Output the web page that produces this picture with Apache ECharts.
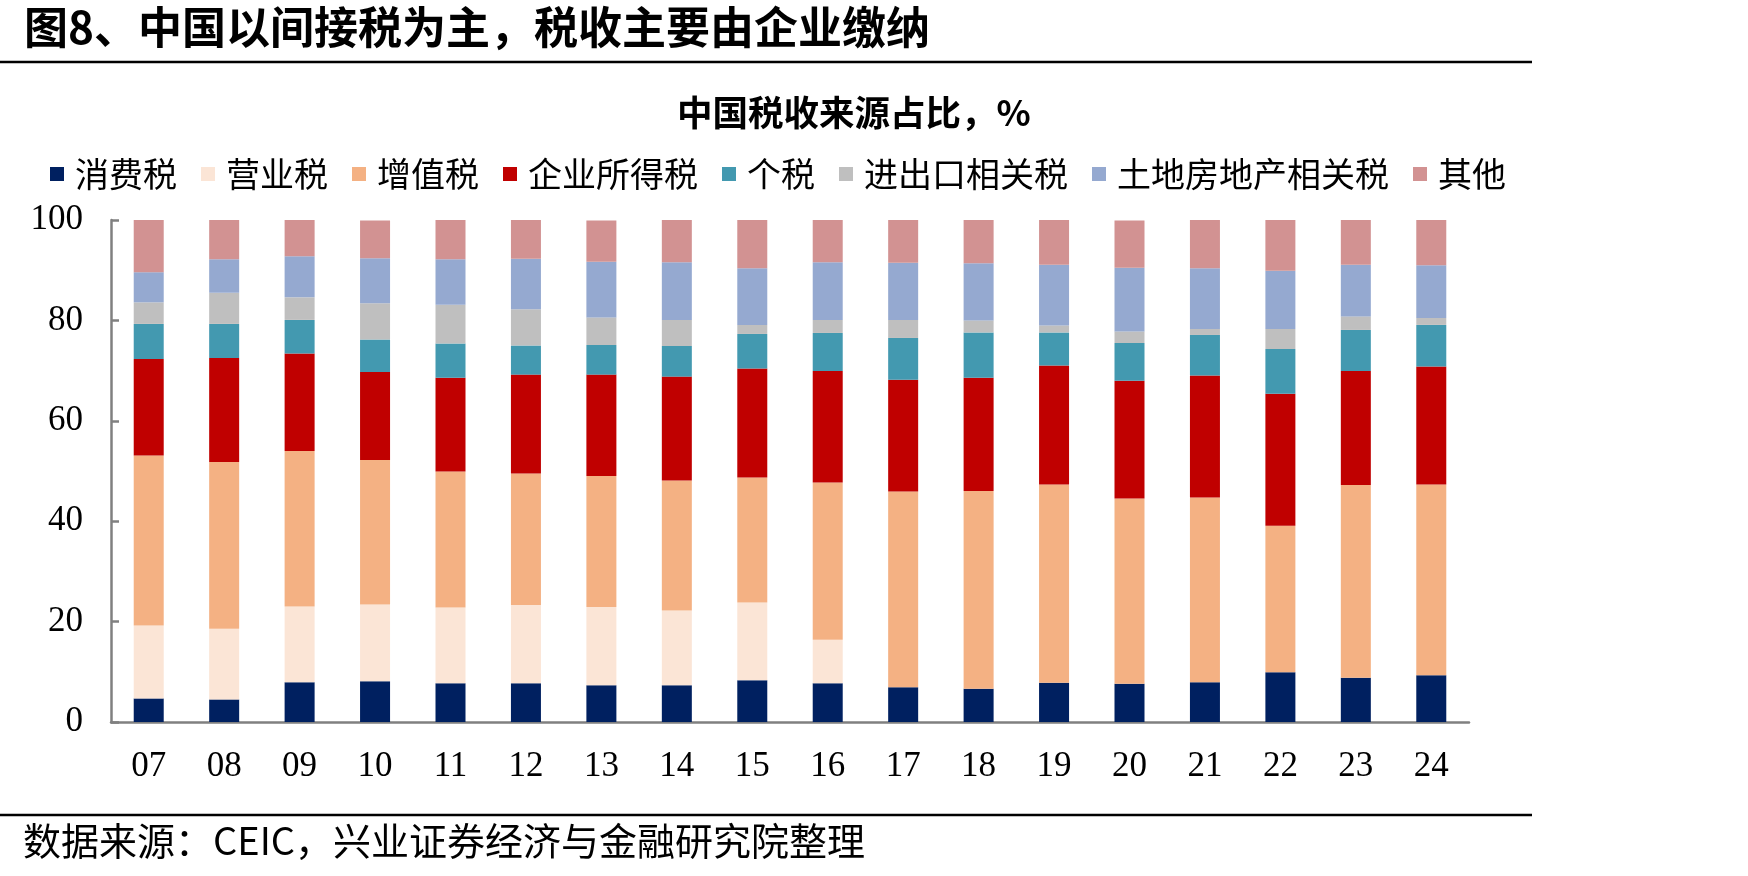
<!DOCTYPE html>
<html>
<head>
<meta charset="utf-8">
<title>中国税收来源占比</title>
<script src="https://cdn.jsdelivr.net/npm/echarts/dist/echarts.min.js"></script>
<style>
  html, body {
    margin: 0;
    padding: 0;
    background: #fff;
  }
  #chart {
    width: 1748px;
    height: 876px;
  }
</style>
</head>
<body>
<div id="chart"></div>
<script>
// 年份
const years = ['07', '08', '09', '10', '11', '12', '13', '14', '15', '16', '17', '18', '19', '20', '21', '22', '23', '24']

// 各税种占比，%
const consumptionTax = [4.7, 4.5, 7.9, 8.1, 7.7, 7.7, 7.3, 7.3, 8.3, 7.7, 6.9, 6.6, 7.8, 7.6, 7.9, 9.9, 8.8, 9.3]
const businessTax = [14.5, 14.1, 15.1, 15.3, 15.1, 15.6, 15.6, 14.9, 15.5, 8.7, 0, 0, 0, 0, 0, 0, 0, 0]
const vatTax = [33.9, 33.2, 31.0, 28.8, 27.1, 26.2, 26.1, 25.9, 24.9, 31.3, 39.0, 39.4, 39.5, 36.9, 36.8, 29.2, 38.4, 38.0]
const corporateTax = [19.2, 20.7, 19.4, 17.5, 18.7, 19.7, 20.2, 20.7, 21.7, 22.2, 22.3, 22.6, 23.7, 23.5, 24.3, 26.3, 22.7, 23.5]
const personalTax = [7.0, 6.8, 6.7, 6.5, 6.8, 5.8, 5.9, 6.1, 6.9, 7.6, 8.3, 9.0, 6.6, 7.5, 8.1, 8.9, 8.2, 8.3]
const tradeTax = [4.3, 6.2, 4.5, 7.2, 7.7, 7.2, 5.5, 5.2, 1.8, 2.6, 3.6, 2.4, 1.4, 2.3, 1.2, 4.0, 2.7, 1.4]
const landTax = [6.0, 6.7, 8.2, 9.0, 9.1, 10.1, 11.1, 11.5, 11.3, 11.5, 11.4, 11.4, 12.1, 12.7, 12.1, 11.6, 10.3, 10.5]
const otherTax = [10.4, 7.8, 7.2, 7.5, 7.8, 7.8, 8.2, 8.4, 9.6, 8.4, 8.5, 8.6, 9.0, 9.4, 9.6, 10.1, 9.0, 9.0]

const yTicks = [0, 20, 40, 60, 80, 100]

const cjk = "'Noto Sans CJK SC', sans-serif"
const serif = "'Liberation Serif', 'Noto Sans CJK SC', serif"

const chart = echarts.init(document.getElementById('chart'))

function bar(name, data, color) {
  return {
    name: name,
    type: 'bar',
    stack: 'total',
    barWidth: 30,
    data: data,
    itemStyle: { color: color },
    emphasis: { disabled: true }
  }
}

const option = {
  backgroundColor: '#fff',
  animation: false,
  title: [
    {
      text: '图8、中国以间接税为主，税收主要由企业缴纳',
      left: 24,
      top: 5,
      padding: 0,
      textStyle: { fontFamily: cjk, fontSize: 44, fontWeight: 'bold', color: '#000' }
    },
    {
      text: '中国税收来源占比，%',
      left: 677,
      top: 95,
      padding: 0,
      textStyle: { fontFamily: cjk, fontSize: 35.5, fontWeight: 'bold', color: '#000' }
    },
    {
      text: '数据来源：CEIC，兴业证券经济与金融研究院整理',
      left: 23,
      top: 822,
      padding: 0,
      textStyle: { fontFamily: cjk, fontSize: 38, fontWeight: 'normal', color: '#000' }
    }
  ],
  legend: {
    left: 50,
    top: 157,
    padding: 0,
    itemWidth: 14,
    itemHeight: 14,
    itemGap: 24,
    icon: 'rect',
    selectedMode: false,
    textStyle: { fontFamily: cjk, fontSize: 34, color: '#000', padding: [0, 0, 0, 6] }
  },
  grid: {
    left: 111,
    right: 279,
    top: 220,
    bottom: 154
  },
  xAxis: {
    type: 'category',
    data: years,
    axisLine: { lineStyle: { color: '#808080', width: 2.5 } },
    axisTick: { inside: true, length: 9, lineStyle: { color: '#808080', width: 2.5 } },
    axisLabel: { fontFamily: serif, fontSize: 35, color: '#000', margin: 27 }
  },
  yAxis: {
    type: 'value',
    min: yTicks[0],
    max: yTicks[yTicks.length - 1],
    interval: 20,
    splitLine: { show: false },
    axisLine: { show: true, lineStyle: { color: '#808080', width: 2.5 } },
    axisTick: { show: true, inside: true, length: 8, lineStyle: { color: '#808080', width: 2.5 } },
    axisLabel: { fontFamily: serif, fontSize: 35, color: '#000', margin: 28 }
  },
  graphic: [
    // 标题下横线
    { type: 'line', shape: { x1: 0, y1: 62, x2: 1532, y2: 62 }, style: { stroke: '#000', lineWidth: 2.5 } },
    // 数据来源上横线
    { type: 'line', shape: { x1: 0, y1: 815, x2: 1532, y2: 815 }, style: { stroke: '#000', lineWidth: 2.5 } }
  ],
  series: [
    bar('消费税', consumptionTax, '#002060'),
    bar('营业税', businessTax, '#FBE5D6'),
    bar('增值税', vatTax, '#F4B183'),
    bar('企业所得税', corporateTax, '#C00000'),
    bar('个税', personalTax, '#4399B0'),
    bar('进出口相关税', tradeTax, '#BFBFBF'),
    bar('土地房地产相关税', landTax, '#95A9D0'),
    bar('其他', otherTax, '#D29292')
  ]
}

chart.setOption(option)
</script>
</body>
</html>
